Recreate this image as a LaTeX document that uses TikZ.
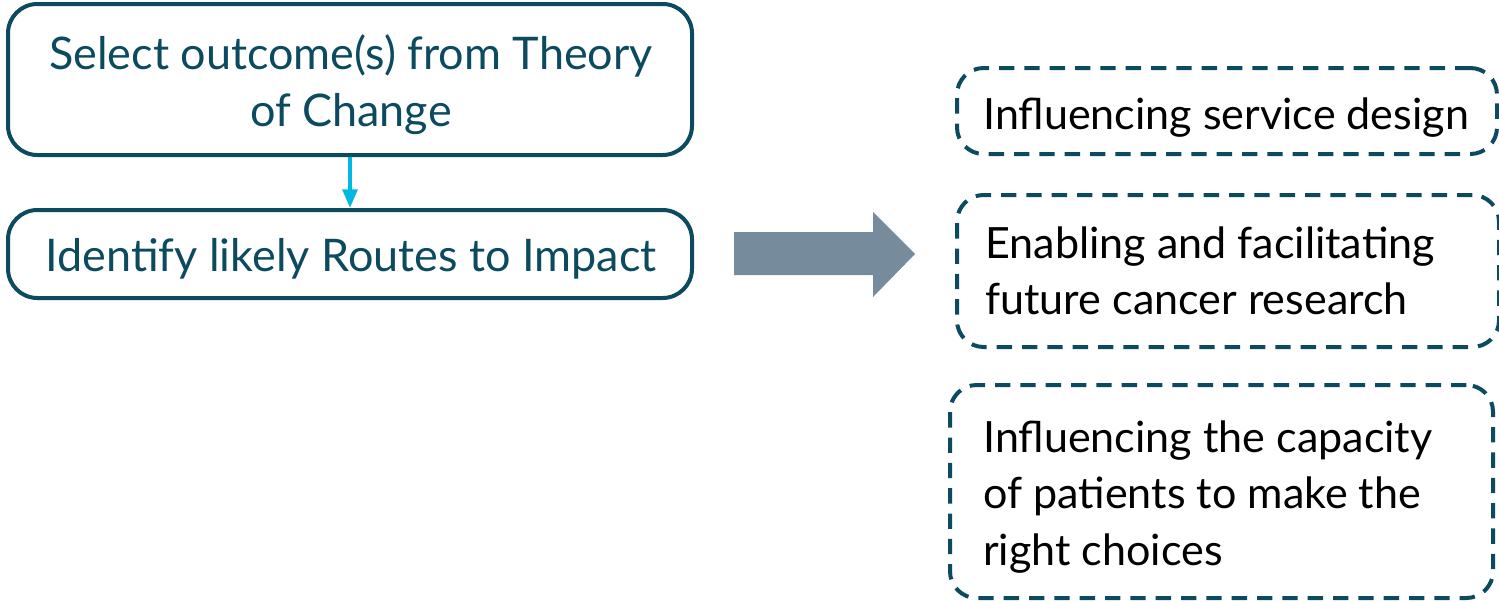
\documentclass[tikz,border=0pt]{standalone}
\usepackage{fontspec}
\setmainfont{Lato}
\usetikzlibrary{arrows.meta}
\definecolor{teal}{RGB}{12,75,95}
\definecolor{skyc}{RGB}{0,184,224}
\definecolor{slate}{RGB}{118,140,156}
\tikzset{
  solidbox/.style={draw=teal, line width=3pt, rounded corners=22pt, inner sep=0pt},
  dashbox/.style={draw=teal, line width=3pt, rounded corners=20pt, inner sep=0pt,
    dash pattern=on 11.5pt off 7.5pt},
  lefttext/.style={text=teal, font=\fontsize{33.7}{42.75}\selectfont, align=center, inner sep=0pt},
  righttext/.style={text=black, font=\fontsize{32.3}{42.4}\selectfont, align=left, inner sep=0pt, anchor=west},
  linkarrow/.style={draw=skyc, line width=3pt, -{Triangle[length=14pt,width=11pt]}},
}
\begin{document}
\begin{tikzpicture}[x=0.75pt,y=-0.75pt]
\useasboundingbox (0,0) rectangle (1499,601);
% left boxes
\node[solidbox, minimum width=513pt, minimum height=113.25pt] (sel) at (350,79.5) {};
\node[solidbox, minimum width=513pt, minimum height=66pt] (ident) at (350,254) {};
\node[lefttext] (selt) at (351,85) {Select outcome(s) from Theory\\of Change};
\node[lefttext] (identt) at (351,259) {Identify likely Routes to Impact};
\draw[linkarrow] (sel.south) -- (ident.north);
% big arrow
\fill[slate] (734,232) -- (873,232) -- (873,212) -- (915,254) -- (873,297) -- (873,275) -- (734,275) -- cycle;
% right boxes
\node[dashbox, minimum width=405pt, minimum height=64.5pt] (r1) at (1227,111) {};
\node[dashbox, minimum width=406.5pt, minimum height=114pt] (r2) at (1228,271) {};
\node[dashbox, minimum width=407.25pt, minimum height=159.75pt] (r3) at (1221.5,491.5) {};
\node[righttext] (r1t) at (983,118) {Influencing service design};
\node[righttext] (r2t) at (985,271) {Enabling and facilitating\\future cancer research};
\node[righttext] (r3t) at (983,497) {Influencing the capacity\\of patients to make the\\right choices};
\end{tikzpicture}
\end{document}
